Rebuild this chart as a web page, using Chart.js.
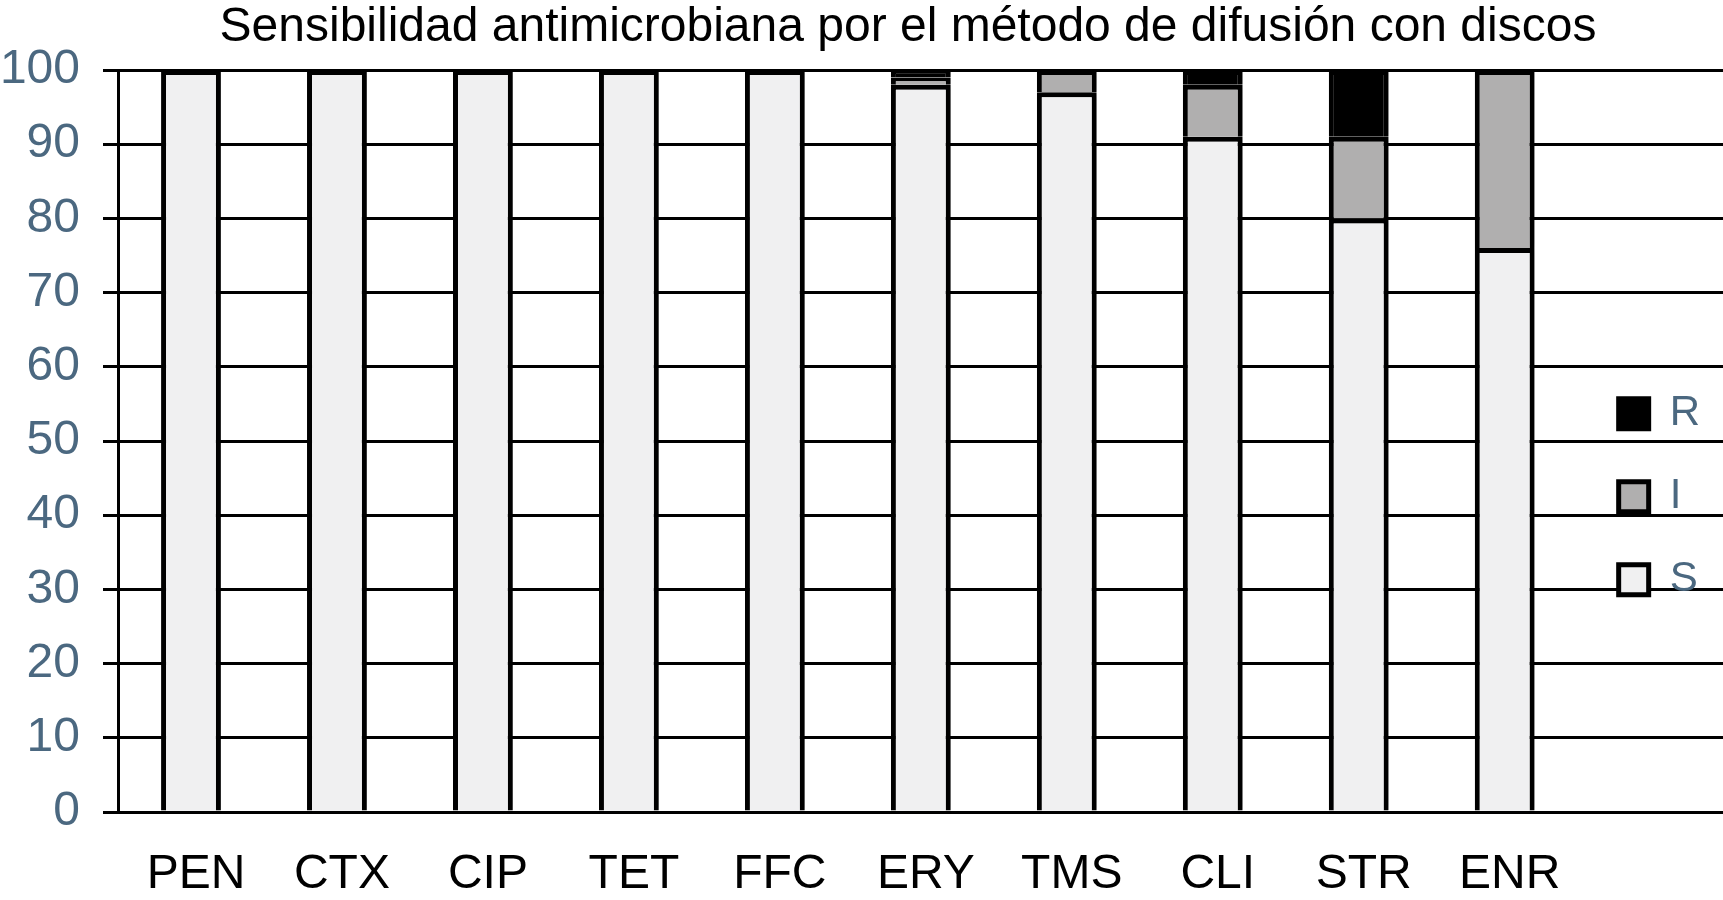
<!DOCTYPE html>
<html>
<head>
<meta charset="utf-8">
<script src="https://cdn.jsdelivr.net/npm/chart.js@4.4.0/dist/chart.umd.min.js"></script>
<style>
  body { margin: 0; background: #fff; }
  #wrap { position: relative; width: 1723px; height: 900px; }
  #title {
    position: absolute; top: 1px; left: 908px; transform: translateX(-50%);
    font-family: "Liberation Sans", Arial, sans-serif; font-size: 48px; line-height: 48px;
    color: #000; white-space: nowrap;
  }
</style>
</head>
<body>
<div id="wrap">
  <div id="title">Sensibilidad antimicrobiana por el método de difusión con discos</div>
  <canvas id="sensChart" width="1723" height="900"></canvas>
</div>
<script>
const antibiotics = ['PEN', 'CTX', 'CIP', 'TET', 'FFC', 'ERY', 'TMS', 'CLI', 'STR', 'ENR'];
const sensible = [100, 100, 100, 100, 100, 98, 97, 91, 80, 76];
const intermedio = [0, 0, 0, 0, 0, 1, 3, 7, 11, 24];
const resistente = [0, 0, 0, 0, 0, 1, 0, 2, 9, 0];
const yTicks = [0, 10, 20, 30, 40, 50, 60, 70, 80, 90, 100];

const FONT = '"Liberation Sans", Arial, sans-serif';
const slate = '#4b6880';
const GRID_W = 3;

// gridlines run on under the legend to the right edge
const extendGrid = {
    id: 'extendGrid',
    beforeDraw(chart) {
        const { ctx, chartArea, scales } = chart;
        ctx.save();
        ctx.strokeStyle = '#000';
        ctx.lineWidth = GRID_W;
        yTicks.forEach(v => {
            const p = scales.y.getPixelForValue(v);
            const y = Math.round(p - GRID_W / 2) + GRID_W / 2;
            ctx.beginPath();
            ctx.moveTo(chartArea.right - 2, y);
            ctx.lineTo(chart.width, y);
            ctx.stroke();
        });
        ctx.restore();
    }
};

// soft shadow on the right side of the bars
const barShadow = {
    id: 'barShadow',
    beforeDatasetsDraw(chart) {
        const ctx = chart.ctx;
        ctx.save();
        ctx.shadowColor = 'rgba(0,0,0,0.18)';
        ctx.shadowBlur = 7;
        ctx.shadowOffsetX = 3;
    },
    afterDatasetsDraw(chart) {
        chart.ctx.restore();
    }
};

function barSet(label, data, color) {
    return {
        label: label,
        data: data,
        backgroundColor: color,
        borderColor: '#000',
        borderWidth: 5,
        borderSkipped: 'start',
        barPercentage: 0.41,
        categoryPercentage: 1
    };
}

const ctx = document.getElementById('sensChart').getContext('2d');

new Chart(ctx, {
    type: 'bar',
    data: {
        labels: antibiotics,
        datasets: [
            barSet('S', sensible, '#f0f0f1'),
            barSet('I', intermedio, '#b0afaf'),
            barSet('R', resistente, '#000000')
        ]
    },
    options: {
        responsive: false,
        animation: false,
        layout: { padding: { top: 70, right: 13, bottom: 1, left: 0 } },
        scales: {
            x: {
                stacked: true,
                grid: { display: false, drawTicks: false },
                border: { display: true, color: '#000', width: GRID_W },
                ticks: { color: '#000', padding: 34, labelOffset: 5, font: { family: FONT, size: 48 } },
                afterFit(scale) { scale.height = 87; }
            },
            y: {
                stacked: true,
                min: 0,
                max: 100,
                grid: { color: '#000', lineWidth: GRID_W, tickLength: 15 },
                border: { display: true, color: '#000', width: GRID_W },
                afterBuildTicks(scale) {
                    scale.ticks = yTicks.map(v => ({ value: v }));
                },
                ticks: { color: slate, padding: 23, font: { family: FONT, size: 48 } },
                afterFit(scale) { scale.width = 118; }
            }
        },
        plugins: {
            title: { display: false },
            tooltip: { enabled: false },
            legend: {
                position: 'right',
                reverse: true,
                title: { display: true, text: '', padding: 5 },
                labels: {
                    boxWidth: 30,
                    boxHeight: 30,
                    padding: 41,
                    color: slate,
                    font: { family: FONT, size: 42 }
                }
            }
        }
    },
    plugins: [extendGrid, barShadow]
});
</script>
</body>
</html>
